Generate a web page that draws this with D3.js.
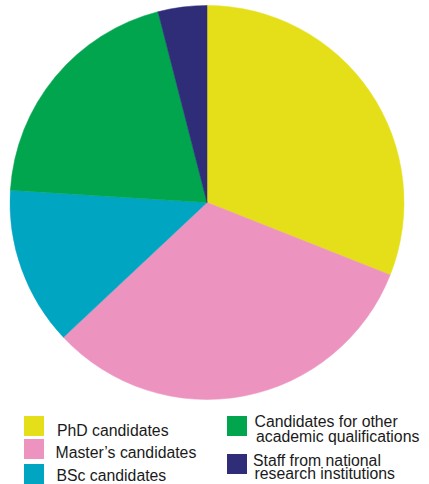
<!DOCTYPE html>
<html>
<head>
<meta charset="utf-8">
<script src="https://cdn.jsdelivr.net/npm/d3@7"></script>
<style>
  html, body { margin: 0; padding: 0; background: #fff; }
  svg { display: block; }
  text { font-family: "Liberation Sans", Arial, Helvetica, sans-serif; fill: #1a1a1a; }
</style>
</head>
<body>
<svg id="chart" width="429" height="484"></svg>
<script>
// Share of participants by group (percent), clockwise from 12 o'clock
const categories = [
  "PhD candidates",
  "Master’s candidates",
  "BSc candidates",
  "Candidates for other academic qualifications",
  "Staff from national research institutions"
];
const shares = [31, 32, 13, 20, 4];
const colors = ["#e5df1a", "#ec93bf", "#00a6c1", "#00a54e", "#2f2c78"];

// Legend labels (line-wrapped)
const legendLines = [
  ["PhD candidates"],
  ["Master’s candidates"],
  ["BSc candidates"],
  ["Candidates for other", "academic qualifications"],
  ["Staff from national", "research institutions"]
];

const svg = d3.select("#chart");
const cx = 207, cy = 202.5, radius = 197;

const color = d3.scaleOrdinal().domain(categories).range(colors);

const pie = d3.pie()
  .sort(null)
  .value(d => d.value);

const arc = d3.arc().innerRadius(0).outerRadius(radius);

const data = categories.map((c, i) => ({ name: c, value: shares[i] }));

svg.append("g")
  .attr("transform", `translate(${cx},${cy})`)
  .selectAll("path")
  .data(pie(data))
  .join("path")
  .attr("d", arc)
  .attr("fill", d => color(d.data.name))
  .attr("stroke", d => color(d.data.name))
  .attr("stroke-width", 0.5);

// Legend: two columns of square swatches with labels
const legendPos = [
  { x: 24, y: 416, tx: 57, ty: 435.5, gap: 0 },
  { x: 24, y: 439, tx: 55.5, ty: 458.3, gap: 0 },
  { x: 24, y: 464, tx: 56.5, ty: 481, gap: 0 },
  { x: 227, y: 416, tx: 254.5, ty: 427.3, gap: 14.4 },
  { x: 227, y: 454, tx: 253, ty: 466, gap: 13.4 }
];

const legend = svg.append("g");
categories.forEach((c, i) => {
  const p = legendPos[i];
  legend.append("rect")
    .attr("x", p.x).attr("y", p.y)
    .attr("width", 20).attr("height", 20)
    .attr("fill", color(c));
  const t = legend.append("text")
    .attr("x", p.tx).attr("y", p.ty)
    .attr("font-size", "15.8px");
  legendLines[i].forEach((line, j) => {
    t.append("tspan")
      .attr("x", p.tx + (j > 0 ? 1.5 : 0))
      .attr("y", p.ty + j * p.gap)
      .text(line);
  });
});
</script>
</body>
</html>
